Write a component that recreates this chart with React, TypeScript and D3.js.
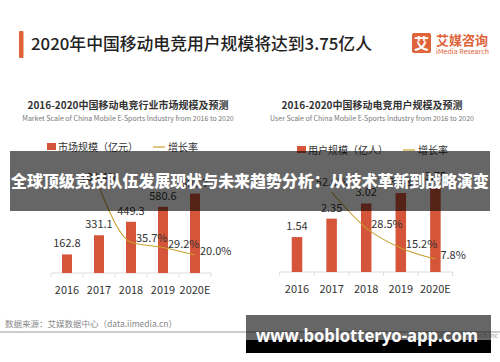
import React from "react";
import * as d3 from "d3";

const years = ["2016", "2017", "2018", "2019", "2020E"];
const marketValues = [162.8, 331.1, 449.3, 580.6, 696.7];
const marketGrowth = [null, 103.4, 35.7, 29.2, 20.0];
const userValues = [1.54, 2.35, 3.02, 3.48, 3.75];
const userGrowth = [null, 52.6, 28.5, 15.2, 7.8];

const mainTitle = "2020年中国移动电竞用户规模将达到3.75亿人";
const leftTitle = "2016-2020中国移动电竞行业市场规模及预测";
const leftSub = "Market Scale of China Mobile E-Sports Industry from 2016 to 2020";
const rightTitle = "2016-2020中国移动电竞用户规模及预测";
const rightSub = "User Scale of China Mobile E-Sports Industry from 2016 to 2020";
const leftLegend = ["市场规模（亿元）", "增长率"];
const rightLegend = ["用户规模（亿人）", "增长率"];
const bannerText = "全球顶级竞技队伍发展现状与未来趋势分析：从技术革新到战略演变";
const sourceText = "数据来源：艾媒数据中心（data.iimedia.cn）";
const watermark = "www.boblotteryo-app.com";

const FONT = "'Noto Sans CJK SC', 'Noto Sans', sans-serif";
const BAR = "#d5553a";
const LINE = "#c9a12e";
const ORANGE = "#e0643a";

type PanelProps = {
  values: number[];
  growth: (number | null)[];
  xRange: [number, number];
  yMax: number;
  yRange: [number, number];
  gDomain: [number, number];
  gRange: [number, number];
  barW: number;
  fmt: (v: number) => string;
  legend: string[];
  legendX: number;
  legendY: number;
  title: string;
  sub: string;
  titleX: number;
  axisY: number;
};

function Panel(p: PanelProps) {
  const x = d3.scalePoint<string>().domain(years).range(p.xRange).padding(0.5);
  const y = d3.scaleLinear().domain([0, p.yMax]).range(p.yRange);
  const g = d3.scaleLinear().domain(p.gDomain).range(p.gRange);
  const step = x.step();
  const pts: [number, number][] = [];
  p.growth.forEach((v, i) => {
    if (v !== null) pts.push([x(years[i])!, g(v)]);
  });
  const line = d3.line().curve(d3.curveMonotoneX)(pts) || "";
  const ticks = d3.range(years.length + 1).map((i) => p.xRange[0] + i * step);
  return (
    <g>
      <text x={p.titleX} y={109} textAnchor="middle" fontSize={10} fontWeight="bold" fill="#333" fontFamily={FONT}>
        {p.title}
      </text>
      <text x={p.titleX} y={121} textAnchor="middle" fontSize={7} fill="#777" fontFamily={FONT}>
        {p.sub}
      </text>
      <rect x={p.legendX} y={p.legendY - 4} width={9} height={7} fill={BAR} />
      <text x={p.legendX + 11} y={p.legendY + 3.5} fontSize={10} fill="#333" fontFamily={FONT}>
        {p.legend[0]}
      </text>
      <line x1={p.legendX + 106} x2={p.legendX + 118} y1={p.legendY} y2={p.legendY} stroke={LINE} strokeWidth={1.2} />
      <text x={p.legendX + 121} y={p.legendY + 3.5} fontSize={10} fill="#333" fontFamily={FONT}>
        {p.legend[1]}
      </text>
      <line x1={p.xRange[0]} x2={p.xRange[1]} y1={p.axisY} y2={p.axisY} stroke="#ddd" strokeWidth={1} />
      {ticks.map((t, i) => (
        <line key={i} x1={t} x2={t} y1={p.axisY} y2={p.axisY + 4} stroke="#ddd" strokeWidth={1} />
      ))}
      {p.values.map((v, i) => (
        <rect key={i} x={x(years[i])! - p.barW / 2} y={y(v)} width={p.barW} height={y(0) - y(v)} fill={BAR} />
      ))}
      {p.values.map((v, i) => (
        <text key={i} x={x(years[i])!} y={y(v) - 7} textAnchor="middle" fontSize={11} fill="#333" fontFamily={FONT}>
          {p.fmt(v)}
        </text>
      ))}
      <path d={line} fill="none" stroke={LINE} strokeWidth={1.1} />
      {p.growth.map((v, i) =>
        v === null ? null : i === 1 ? (
          <text key={i} x={x(years[i])!} y={g(v) - 6} textAnchor="middle" fontSize={11} fill="#333" fontFamily={FONT}>
            {v.toFixed(1) + "%"}
          </text>
        ) : (
          <text key={i} x={x(years[i])! + 5} y={g(v)} fontSize={11} fill="#333" fontFamily={FONT}>
            {v.toFixed(1) + "%"}
          </text>
        )
      )}
      {years.map((yr) => (
        <text key={yr} x={x(yr)!} y={p.axisY + 21} textAnchor="middle" fontSize={11} fill="#333" fontFamily={FONT}>
          {yr}
        </text>
      ))}
    </g>
  );
}

export default function App() {
  return (
    <svg width={500} height={362} style={{ position: "absolute", left: 0, top: 0, background: "#fff" }}>
      <rect x={0} y={0} width={500} height={362} fill="#fff" />
      <rect x={19} y={31} width={4.5} height={27} fill={ORANGE} rx={1} />
      <text x={31} y={50} fontSize={16.5} fontWeight={500} fill="#222" fontFamily={FONT} textLength={341} lengthAdjust="spacingAndGlyphs">
        {mainTitle}
      </text>
      <rect x={412} y={33} width={19} height={20} rx={2} fill={ORANGE} />
      <text x={421.5} y={48.5} textAnchor="middle" fontSize={15} fontWeight="bold" fill="#fff" fontFamily={FONT}>
        艾
      </text>
      <text x={436} y={45} fontSize={13} fontWeight="bold" fill={ORANGE} fontFamily={FONT}>
        艾媒咨询
      </text>
      <text x={436} y={53.5} fontSize={6.3} fill={ORANGE} fontFamily={FONT} textLength={53} lengthAdjust="spacingAndGlyphs">
        iMedia Research
      </text>

      <Panel
        values={marketValues}
        growth={marketGrowth}
        xRange={[51, 211]}
        yMax={700}
        yRange={[273, 193.2]}
        gDomain={[0, 100]}
        gRange={[271.3, 189.8]}
        barW={10}
        fmt={(v) => v.toFixed(1)}
        legend={leftLegend}
        legendX={47}
        legendY={147}
        title={leftTitle}
        sub={leftSub}
        titleX={128}
        axisY={273}
      />
      <Panel
        values={userValues}
        growth={userGrowth}
        xRange={[279.7, 452.7]}
        yMax={4}
        yRange={[272, 181.2]}
        gDomain={[0, 50]}
        gRange={[270.7, 195.9]}
        barW={10.5}
        fmt={(v) => v.toFixed(2)}
        legend={rightLegend}
        legendX={297}
        legendY={150}
        title={rightTitle}
        sub={rightSub}
        titleX={372}
        axisY={272}
      />

      <text x={5} y={327} fontSize={8.5} fill="#888" fontFamily={FONT}>
        {sourceText}
      </text>
      <line x1={0} x2={500} y1={332} y2={332} stroke="#bbb" strokeWidth={1.3} />
      <text x={498} y={338} textAnchor="end" fontSize={6.5} fill="#999" fontFamily={FONT}>
        ©2020 iiMedia Research Inc
      </text>

      <rect x={10} y={151} width={480} height={60} fill="#000" fillOpacity={0.6} />
      <text x={250} y={187} textAnchor="middle" fontSize={15.5} fontWeight={900} fill="#fff" fontFamily={FONT} textLength={478} lengthAdjust="spacingAndGlyphs">
        {bannerText}
      </text>

      <rect x={246} y={315} width={245} height={25} fill="#000" fillOpacity={0.6} />
      <rect x={246} y={340} width={245} height={13} fill="#000" />
      <text x={256} y={342} fontSize={17.5} fontWeight="bold" fill="#fff" fontFamily="'Open Sans', 'DejaVu Sans', sans-serif" textLength={222} lengthAdjust="spacingAndGlyphs">
        {watermark}
      </text>
    </svg>
  );
}
